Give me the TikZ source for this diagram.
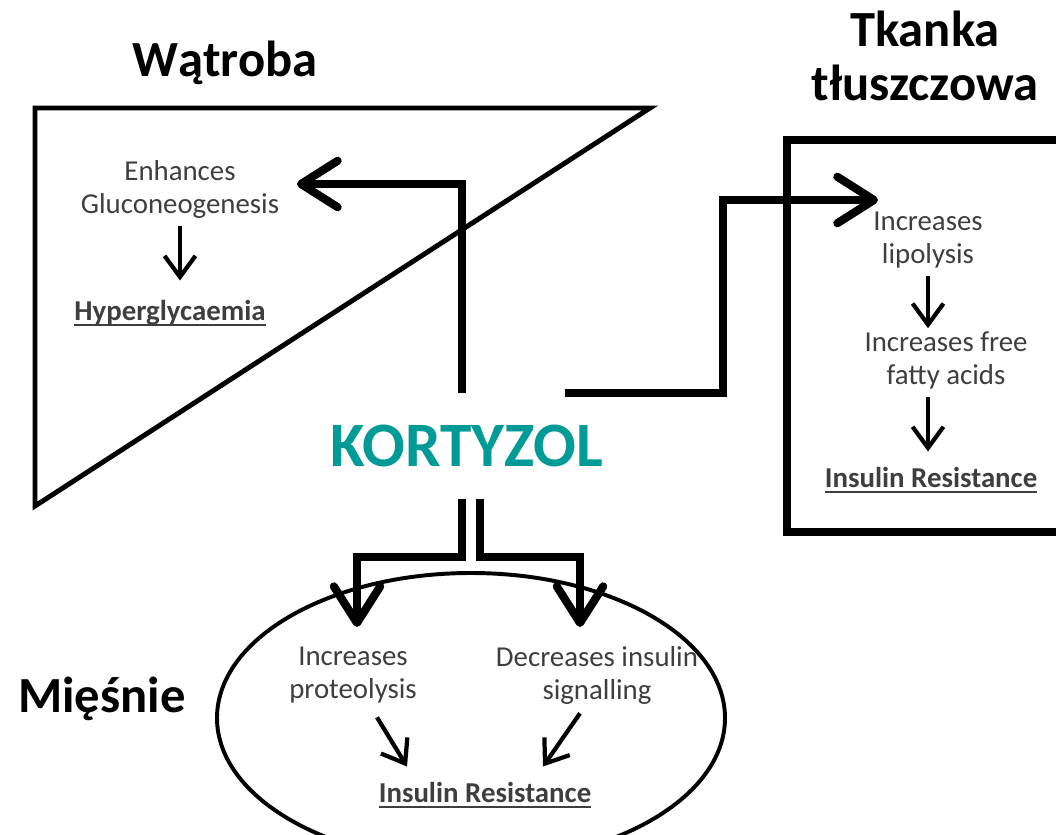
\documentclass[tikz,border=0pt]{standalone}
\usepackage{fontspec}
\setmainfont{Carlito}
\usetikzlibrary{arrows.meta,calc}
\definecolor{kortteal}{RGB}{0,155,150}
\definecolor{notegray}{RGB}{62,62,62}
\newcommand\ulbar[1]{\setbox0\hbox{#1}\rlap{\color{notegray}\rule[-4.3pt]{\wd0}{1.3pt}}\box0}

\begin{document}
\begin{tikzpicture}[
  x=0.025cm, y=-0.025cm,
  organ/.style={font=\fontsize{36}{39}\selectfont\bfseries, inner sep=0pt, align=center},
  note/.style={font=\fontsize{20.5}{23.5}\selectfont, text=notegray, inner sep=0pt, align=center},
  result/.style={font=\fontsize{20.5}{23.5}\selectfont\bfseries, text=notegray,
                 inner sep=0pt, anchor=base},
  hub/.style={font=\fontsize{45}{50}\selectfont\bfseries, text=kortteal, fill=white,
              minimum width=7.5cm, minimum height=2.65cm, inner sep=0pt},
  bigarr/.style={line width=5.8pt, -{Straight Barb[length=26pt, width=33pt, round]}},
  arr/.style={line width=3pt, -{Straight Barb[length=15pt, width=22pt]}},
]
\clip (0,0) rectangle (1056,834);

% organ outlines
\draw[line width=3.5pt] (35,108) -- (650,108) -- (35,506) -- cycle;
\draw[line width=6pt] (787,140) rectangle (1080,532);
\draw[line width=2.8pt] (471,718) ellipse [x radius=254, y radius=145];

% organ names
\node[organ, anchor=base] (liver) at (225,77) {Wątroba};
\node[organ] (fat) at (925,56) {Tkanka\\tłuszczowa};
\node[organ, anchor=base] (muscle) at (102,712) {Mięśnie};

\node[hub] (kort) at (462,446) {\hspace*{0.25cm}KORTYZOL};

% liver
\node[note] (gluco) at (180,189) {Enhances\\Gluconeogenesis};
\node[result] (hyper) at (170,320) {\ulbar{Hyperglycaemia}};

% adipose tissue
\node[note] (lipo) at (928,240) {Increases\\lipolysis};
\node[note] (ffa) at (946,360) {Increases free\\fatty acids};
\node[result] (fatir) at (931,487) {\ulbar{Insulin Resistance}};

% muscle
\node[note] (prot) at (353,675) {Increases\\proteolysis};
\node[note] (sig) at (597,675) {Decreases insulin\\signalling};
\node[result] (musir) at (485,802) {\ulbar{Insulin Resistance}};

\coordinate (livtip) at (297,184);
\coordinate (fattip) at (878,200);
\coordinate (prottip) at (357,627);
\coordinate (sigtip) at (580,627);

\draw[bigarr] (kort.north) |- (livtip);
\draw[bigarr] ($(kort.north)+(103,0)$) -- ++(158,0) |- (fattip);
\draw[bigarr] (kort.south) -- ++(0,58) -| (prottip);
\draw[bigarr] ($(kort.south)+(18,0)$) -- ++(0,58) -| (sigtip);

\draw[arr, shorten <=5.7pt, shorten >=13.5pt] (gluco.south) -- (hyper.north -| gluco.south);
\draw[arr, shorten <=5.7pt, shorten >=2pt] (lipo.south) -- (ffa.north -| lipo.south);
\draw[arr, shorten <=5.7pt, shorten >=10.7pt] (ffa.south -| lipo.south) -- (fatir.north -| lipo.south);
\draw[arr] ($(prot.south)+(24,14)$) -- ($(musir.north)+(-78,-15)$);
\draw[arr] ($(sig.south)+(-17,9)$) -- ($(musir.north)+(58,-15)$);

\end{tikzpicture}
\end{document}
